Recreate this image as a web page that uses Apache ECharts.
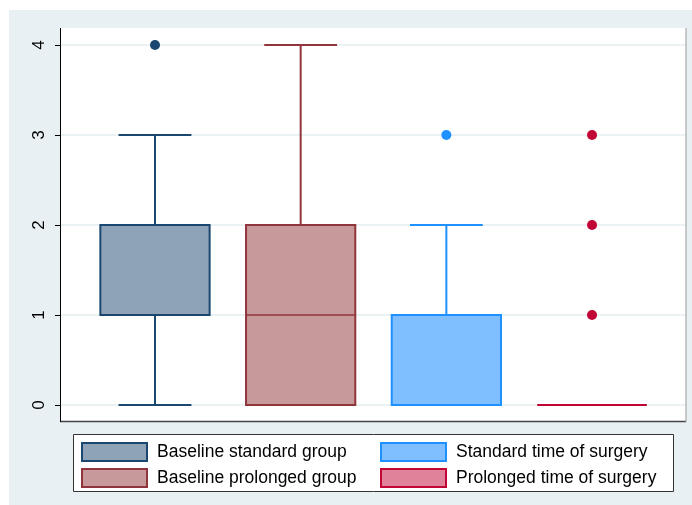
<!DOCTYPE html>
<html>
<head>
<meta charset="utf-8">
<script src="https://cdn.jsdelivr.net/npm/echarts@6/dist/echarts.min.js"></script>
<style>html,body{margin:0;padding:0;background:#fff}#c{width:692px;height:505px}</style>
</head>
<body>
<div id="c"></div>
<script>
// ---- data ----
const categories = ['Baseline standard group', 'Baseline prolonged group', 'Standard time of surgery', 'Prolonged time of surgery'];
// [lower whisker, Q1, median, Q3, upper whisker]
const stdBaseline = [0, 1, 1, 2, 3];
const proBaseline = [0, 0, 1, 2, 4];
const stdSurgery = [0, 0, 0, 1, 2];
const proSurgery = [0, 0, 0, 0, 0];
const outStdBaseline = [4];
const outProBaseline = [];
const outStdSurgery = [3];
const outProSurgery = [1, 2, 3];
const yTicks = [0, 1, 2, 3, 4];

const boxStats = [stdBaseline, proBaseline, stdSurgery, proSurgery];
const outliers = [outStdBaseline, outProBaseline, outStdSurgery, outProSurgery];
const styles = [
  {line: '#1a476f', fill: '#8ea3b8'},
  {line: '#90353b', fill: '#c8999b'},
  {line: '#1e90ff', fill: '#80bfff'},
  {line: '#c10534', fill: '#e08299'}
];

function renderBox(params, api) {
  const x = api.value(0);
  const lo = api.value(1), q1 = api.value(2), md = api.value(3), q3 = api.value(4), hi = api.value(5);
  const band = api.size([1, 0])[0];
  const bw = band * 0.75, cw = band * 0.5;
  const cx = api.coord([x, 0])[0];
  const yLo = api.coord([x, lo])[1], yQ1 = api.coord([x, q1])[1], yMd = api.coord([x, md])[1];
  const yQ3 = api.coord([x, q3])[1], yHi = api.coord([x, hi])[1];
  const st = styles[params.seriesIndex];
  const children = [];
  const ls = {stroke: st.line, lineWidth: 2};
  if (hi > q3) {
    children.push({type: 'line', shape: {x1: cx, y1: yQ3, x2: cx, y2: yHi}, style: ls});
    children.push({type: 'line', shape: {x1: cx - cw / 2, y1: yHi, x2: cx + cw / 2, y2: yHi}, style: ls});
  }
  if (lo < q1) {
    children.push({type: 'line', shape: {x1: cx, y1: yQ1, x2: cx, y2: yLo}, style: ls});
    children.push({type: 'line', shape: {x1: cx - cw / 2, y1: yLo, x2: cx + cw / 2, y2: yLo}, style: ls});
  }
  children.push({type: 'rect', shape: {x: cx - bw / 2, y: yQ3, width: bw, height: yQ1 - yQ3},
    style: {fill: st.fill, stroke: st.line, lineWidth: 2}});
  children.push({type: 'line', shape: {x1: cx - bw / 2, y1: yMd, x2: cx + bw / 2, y2: yMd},
    style: {stroke: st.line, lineWidth: 1.5}});
  return {type: 'group', children: children};
}

const series = [];
boxStats.forEach((s, i) => {
  series.push({
    name: categories[i], type: 'custom', renderItem: renderBox,
    encode: {x: 0, y: [1, 2, 3, 4, 5]},
    itemStyle: {color: styles[i].fill, borderColor: styles[i].line},
    data: [[i + 1].concat(s)], z: 3
  });
});
outliers.forEach((o, i) => {
  series.push({
    type: 'scatter', symbol: 'circle', symbolSize: 10,
    itemStyle: {color: styles[i].line, opacity: 1},
    data: o.map(v => [i + 1, v]), z: 4, silent: true
  });
});

function legendItem(i) {
  return {name: categories[i], icon: 'rect',
    itemStyle: {color: styles[i].fill, borderColor: styles[i].line, borderWidth: 2}};
}
const legendText = {fontSize: 17.5, color: '#000', fontFamily: 'Liberation Sans, Arial, sans-serif', padding: [0, 0, 0, 5]};

const chart = echarts.init(document.getElementById('c'), null, {renderer: 'canvas'});
chart.setOption({
  animation: false,
  backgroundColor: '#ffffff',
  graphic: [
    {type: 'rect', z: -10, shape: {x: 9, y: 10, width: 683, height: 495}, style: {fill: '#e9f0f3'}},
    {type: 'rect', z: -9, shape: {x: 60, y: 28, width: 626, height: 394}, style: {fill: '#ffffff'}},
    {type: 'line', z: 50, shape: {x1: 60, y1: 421.5, x2: 686, y2: 421.5}, style: {stroke: '#444', lineWidth: 1.5}},
    {type: 'line', z: 50, shape: {x1: 686, y1: 28, x2: 686, y2: 422}, style: {stroke: '#999', lineWidth: 1}},
    {type: 'line', z: 50, shape: {x1: 60.5, y1: 28, x2: 60.5, y2: 422}, style: {stroke: '#000', lineWidth: 1}},
    {type: 'rect', z: -9, shape: {x: 73.5, y: 434.5, width: 600, height: 57}, style: {fill: '#ffffff', stroke: '#333', lineWidth: 1}}
  ],
  grid: {left: 60, right: 6, top: 45, bottom: 100, containLabel: false},
  xAxis: {type: 'value', min: 0.348, max: 4.645, show: false, splitLine: {show: false}},
  yAxis: {
    type: 'value', min: 0, max: 4, interval: 1,
    axisLine: {show: false},
    axisTick: {show: true, length: 5, lineStyle: {color: '#000', width: 1}},
    axisLabel: {rotate: 90, margin: 12, fontSize: 17, color: '#000', fontFamily: 'Liberation Sans, Arial, sans-serif',
      formatter: v => yTicks.includes(v) ? String(v) : ''},
    splitLine: {show: true, lineStyle: {color: '#eaf2f3', width: 2}}
  },
  legend: [
    {orient: 'vertical', left: 81, top: 442, padding: 0, itemWidth: 65, itemHeight: 18, itemGap: 6,
      selectedMode: false, textStyle: legendText,
      data: [legendItem(0), legendItem(1)]},
    {orient: 'vertical', left: 380, top: 442, padding: 0, itemWidth: 65, itemHeight: 18, itemGap: 6,
      selectedMode: false, textStyle: legendText,
      data: [legendItem(2), legendItem(3)]}
  ],
  series: series
});
</script>
</body>
</html>
